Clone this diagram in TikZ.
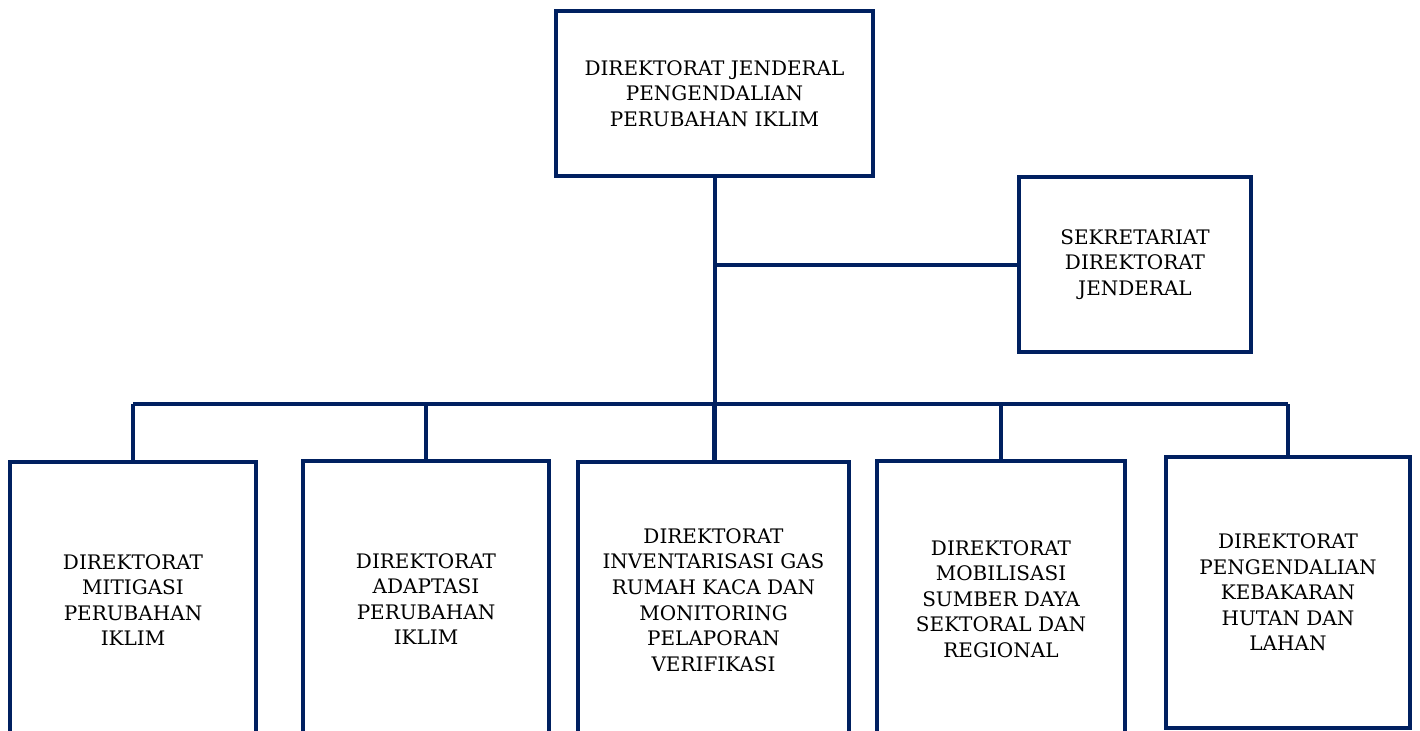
\documentclass[tikz,border=0pt]{standalone}
\usepackage{fontspec}
\setmainfont{DejaVu Serif}
\usepackage{tikz}
\usetikzlibrary{positioning}
\definecolor{navy}{HTML}{002060}
\tikzset{
  unit/.style={draw=navy, line width=2pt, align=center, fill=white, anchor=north west,
    inner sep=4pt, font=\fontsize{10}{12.8}\selectfont},
  topunit/.style={unit, minimum width=158.5pt, minimum height=82.5pt},
  sideunit/.style={unit, minimum width=116pt, minimum height=87.5pt},
  dirunit/.style={unit, minimum height=138pt},
  link/.style={draw=navy, line width=2pt}
}
\begin{document}
\begin{tikzpicture}[x=0.5pt, y=-0.5pt]
  \useasboundingbox (0,0) rectangle (1420,730);
  \clip (0,0) rectangle (1420,730);
  \fill[white] (0,0) rectangle (1420,730);
  % top and secretariat
  \node[topunit] (dirjen) at (554,9) {DIREKTORAT JENDERAL\\PENGENDALIAN\\PERUBAHAN IKLIM};
  \node[sideunit] (sekre) at (1017,175) {SEKRETARIAT\\DIREKTORAT\\JENDERAL};
  % directorates
  \node[dirunit, minimum width=123pt] (mitigasi) at (8,460) {DIREKTORAT\\MITIGASI\\PERUBAHAN\\IKLIM};
  \node[dirunit, minimum width=123pt] (adaptasi) at (301,459) {DIREKTORAT\\ADAPTASI\\PERUBAHAN\\IKLIM};
  \node[dirunit, minimum width=135.5pt] (inventaris) at (576,460) {DIREKTORAT\\INVENTARISASI GAS\\RUMAH KACA DAN\\MONITORING\\PELAPORAN\\VERIFIKASI};
  \node[dirunit, minimum width=124pt] (mobilisasi) at (875,459) {DIREKTORAT\\MOBILISASI\\SUMBER DAYA\\SEKTORAL DAN\\REGIONAL};
  \node[unit, minimum width=122pt, minimum height=135.5pt] (karhutla) at (1164,455) {DIREKTORAT\\PENGENDALIAN\\KEBAKARAN\\HUTAN DAN\\LAHAN};
  \coordinate (bus) at (712,404);
  % connectors
  \draw[link] (dirjen.south) -- (dirjen.south |- inventaris.north);
  \draw[link] (dirjen.south |- sekre.west) -- (sekre.west);
  \draw[link] (mitigasi.north |- bus) -- (karhutla.north |- bus);
  \foreach \d in {mitigasi,adaptasi,inventaris,mobilisasi,karhutla}
    \draw[link] (\d.north) -- (\d.north |- bus);
\end{tikzpicture}
\end{document}
